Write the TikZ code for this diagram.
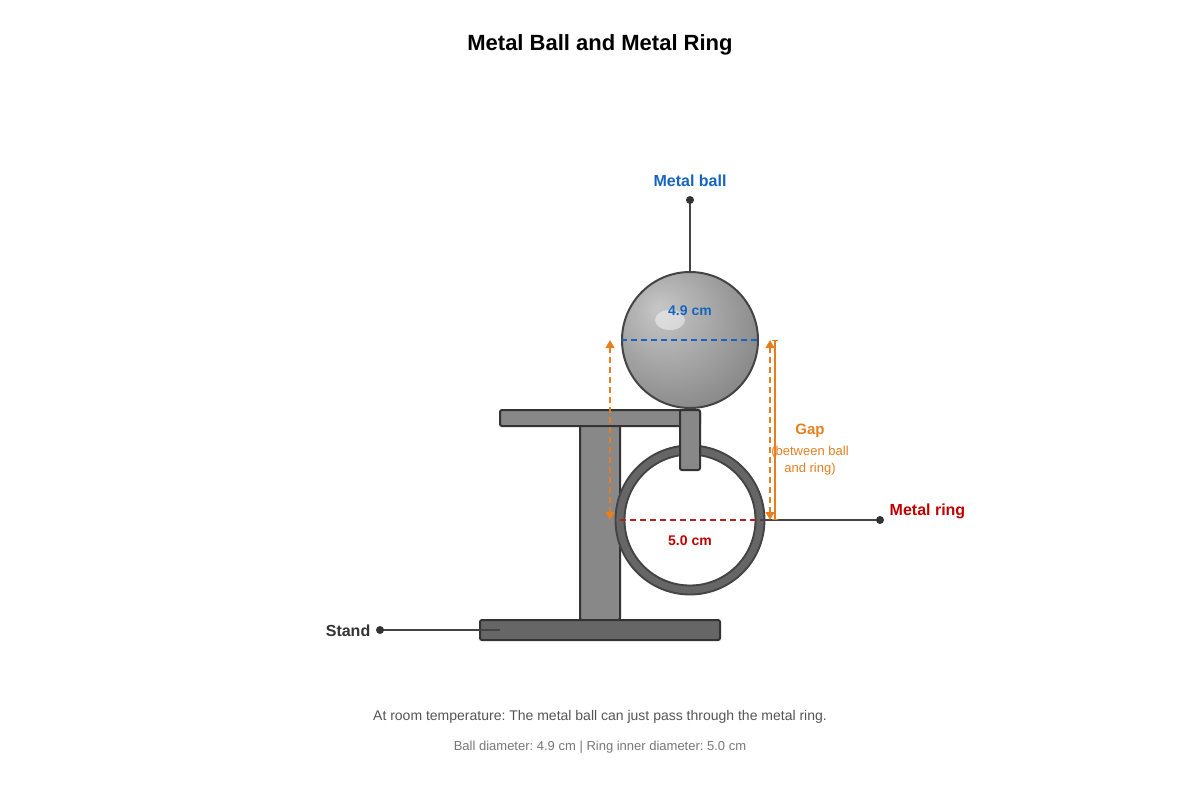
\documentclass[tikz,border=0pt]{standalone}
\usepackage{fontspec}
\setmainfont{Liberation Sans}
\usetikzlibrary{arrows.meta}
\frenchspacing
\definecolor{cblue}{HTML}{1565C0}
\definecolor{cred}{HTML}{C00000}
\definecolor{cdred}{HTML}{B22222}
\definecolor{corange}{HTML}{E67E22}
\definecolor{ctext}{HTML}{333333}
\definecolor{cline}{HTML}{444444}
\definecolor{cbar}{HTML}{888888}
\definecolor{cbase}{HTML}{666666}
\definecolor{cring}{HTML}{666666}
\definecolor{ccap}{HTML}{555555}
\definecolor{ccap2}{HTML}{777777}
\pgfdeclareradialshading{ballshade}{\pgfpoint{-12bp}{12bp}}{color(0bp)=(black!22);color(15bp)=(black!33);color(40bp)=(black!52);color(60bp)=(black!64)}
\tikzset{
  part/.style={draw=ctext, line width=1.5pt, rounded corners=1.5pt},
  leader/.style={draw=cline, line width=1.1pt},
  dotmark/.style={fill=ctext},
  lbl/.style={font=\bfseries\fontsize{12pt}{14pt}\selectfont},
  dimarrow/.style={draw=corange, line width=1.5pt, dash pattern=on 4.5pt off 3pt,
     {Triangle[length=6pt,width=6.5pt,fill=corange]}-{Triangle[length=6pt,width=6.5pt,fill=corange]}},
}
\begin{document}
\begin{tikzpicture}[x=0.75pt,y=-0.75pt]
\useasboundingbox (0,0) rectangle (1200,800);
% title
\node[font=\bfseries\fontsize{16.5pt}{20pt}\selectfont] (title) at (600,45) {Metal Ball and Metal Ring};

% stand
\draw[part, fill=cbar] (580,420) rectangle (620,620);
% ring
\draw[cring, line width=7.5pt] (690,520) circle[radius=70];
\draw[cline, line width=1.4pt] (690,520) circle[radius=74.5];
\draw[cline, line width=1.4pt] (690,520) circle[radius=65.5];
\draw[part, fill=cbar] (500,410) rectangle (700,426);
\draw[part, fill=cbar] (680,410) rectangle (700,470);
\draw[part, fill=cbase] (480,620) rectangle (720,640);

% ball
\node[circle, minimum size=102pt, inner sep=0pt, draw=cline, line width=1.5pt, shading=ballshade] (ball) at (690,340) {};
\fill[white, opacity=0.45] (670,320) ellipse[x radius=15, y radius=10];
\node[font=\bfseries\fontsize{10.5pt}{12pt}\selectfont, text=cblue] (balldim) at (690,311) {4.9 cm};
\draw[cblue, line width=1.1pt, dash pattern=on 4.5pt off 3pt] (ball.west) -- (ball.east);

% ball label
\node[lbl, text=cblue] (balllbl) at (690,181) {Metal ball};
\coordinate (balldot) at (690,200);
\draw[leader] (balldot) -- (ball.north);
\fill[dotmark] (balldot) circle[radius=4];

% ring diameter
\coordinate (ringW) at (620,520);
\coordinate (ringE) at (760,520);
\draw[cdred, line width=1.1pt, dash pattern=on 4.5pt off 3pt] (ringW) -- (ringE);
\node[font=\bfseries\fontsize{10.5pt}{12pt}\selectfont, text=cred] (ringdim) at (690,541) {5.0 cm};

% ring label
\coordinate (ringdot) at (880,520);
\draw[leader] (ringE) -- (ringdot);
\fill[dotmark] (ringdot) circle[radius=4];
\node[lbl, text=cred, anchor=west] (ringlbl) at (885,511) {Metal ring};

% gap dims
\coordinate (gapLt) at (610,340);
\coordinate (gapLb) at (610,520);
\coordinate (gapRt) at (770,340);
\coordinate (gapRb) at (770,520);
\coordinate (gapSt) at (775,340);
\coordinate (gapSb) at (775,520);
\draw[dimarrow] (gapLb) -- (gapLt);
\draw[dimarrow] (gapRb) -- (gapRt);
\draw[corange, line width=1.1pt, {Bar[width=5pt]}-{Bar[width=5pt]}] (gapSt) -- (gapSb);
\node[font=\bfseries\fontsize{11.25pt}{13pt}\selectfont, text=corange] (gaplbl) at (810,431) {Gap};
\node[font=\fontsize{9.75pt}{12.75pt}\selectfont, text=corange, align=center] (gapsub) at (810,461) {(between ball\\and ring)};

% stand label
\coordinate (standdot) at (380,630);
\coordinate (standend) at (500,630);
\draw[leader] (standdot) -- (standend);
\fill[dotmark] (standdot) circle[radius=4];
\node[lbl, text=ctext, anchor=east] (standlbl) at (375,631) {Stand};

% captions
\node[font=\fontsize{10.5pt}{12pt}\selectfont, text=ccap] (cap1) at (600,717) {At room temperature: The metal ball can just pass through the metal ring.};
\node[font=\fontsize{9.75pt}{12pt}\selectfont, text=ccap2] (cap2) at (600,747) {Ball diameter: 4.9 cm | Ring inner diameter: 5.0 cm};
\end{tikzpicture}
\end{document}
